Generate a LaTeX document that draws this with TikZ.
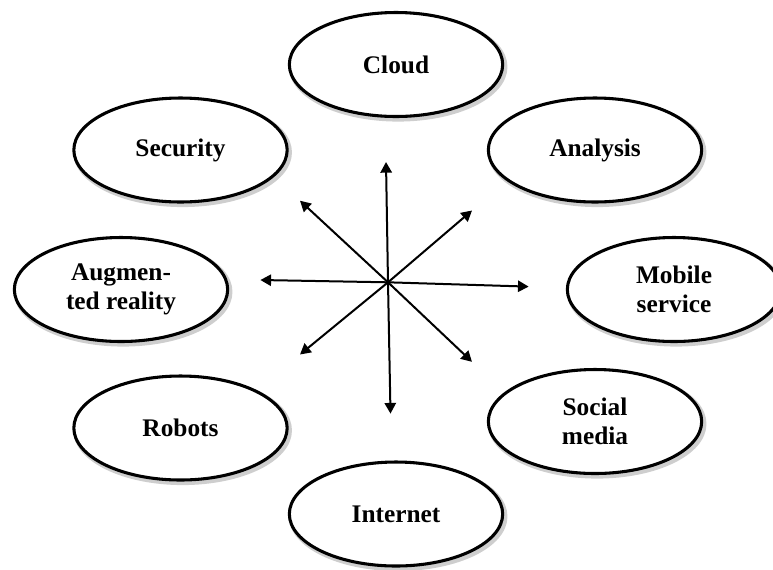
\documentclass[tikz,border=0pt]{standalone}
\usepackage{fontspec}
\setmainfont{Liberation Serif}
\usetikzlibrary{shapes.geometric,arrows.meta}
\tikzset{
  bubble/.style={ellipse, draw=black, line width=2.3pt, fill=white,
    minimum width=160pt, minimum height=78pt, inner sep=0pt,
    font=\fontsize{19}{21.75}\selectfont\bfseries, align=center,
    preaction={draw=black!55, line width=4pt, opacity=0.35,
      transform canvas={xshift=1.6pt, yshift=-1.8pt}}},
  arr/.style={line width=1.5pt, -{Triangle[length=8pt,width=8.5pt]}}
}
\begin{document}
\begin{tikzpicture}[x=0.75pt,y=-0.75pt]
\useasboundingbox (0,0) rectangle (773,569);
\clip (0,0) rectangle (773,569);
% ellipses
\node[bubble] (cloud) at (396,64.5) {Cloud};
\node[bubble] (security) at (180.5,150) {Security};
\node[bubble] (analysis) at (595,150) {Analysis};
\node[bubble] (augmented) at (121,289.5) {Augmen-\\ted reality};
\node[bubble] (mobile) at (674,289.5) {Mobile\\service};
\node[bubble] (robots) at (180.5,428) {Robots};
\node[bubble] (social) at (595,421.5) {Social\\media};
\node[bubble] (internet) at (396,514) {Internet};
% arrows
\coordinate (o) at (388,282.3);
\coordinate (tU) at (386,162);
\coordinate (tD) at (390.5,413.6);
\coordinate (tL) at (260.4,280);
\coordinate (tR) at (528.6,286.6);
\coordinate (tUL) at (300,200.7);
\coordinate (tUR) at (472,210.5);
\coordinate (tDL) at (300,354.5);
\coordinate (tDR) at (472,361.8);
\foreach \t in {tU,tD,tL,tR,tUL,tUR,tDL,tDR}{\draw[arr] (o) -- (\t);}
\end{tikzpicture}
\end{document}
